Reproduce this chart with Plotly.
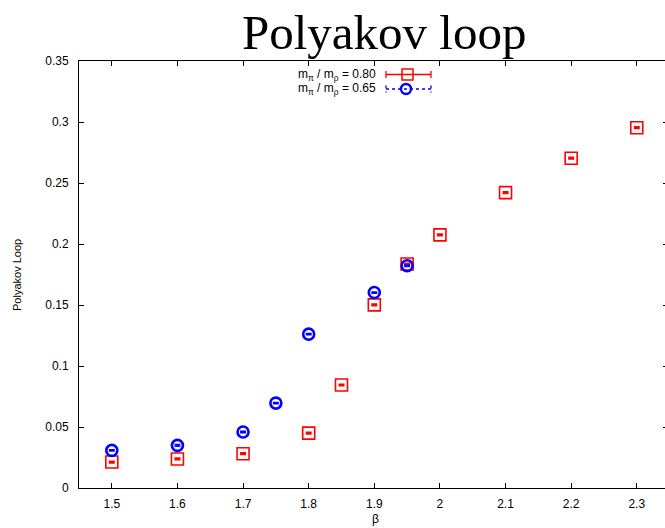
import plotly.graph_objects as go

# Polyakov loop expectation value vs. coupling beta, two quark-mass ratios
beta_080 = [1.5, 1.6, 1.7, 1.8, 1.85, 1.9, 1.95, 2.0, 2.1, 2.2, 2.3]
poly_080 = [0.0213, 0.0238, 0.0281, 0.0450, 0.0844, 0.1501, 0.1836, 0.2075, 0.2421, 0.2703, 0.2953]
err_080 = [0.0006, 0.0006, 0.0006, 0.0006, 0.0005, 0.0006, 0.0006, 0.0006, 0.0006, 0.0006, 0.0006]

beta_065 = [1.5, 1.6, 1.7, 1.75, 1.8, 1.9, 1.95]
poly_065 = [0.0308, 0.0349, 0.0459, 0.0696, 0.1261, 0.1602, 0.1822]
err_065 = [0.0005, 0.0007, 0.0005, 0.0005, 0.0005, 0.0005, 0.0006]

x_ticks = [1.5, 1.6, 1.7, 1.8, 1.9, 2.0, 2.1, 2.2, 2.3]
x_tick_text = ["1.5", "1.6", "1.7", "1.8", "1.9", "2", "2.1", "2.2", "2.3"]
y_ticks = [0, 0.05, 0.1, 0.15, 0.2, 0.25, 0.3, 0.35]
y_tick_text = ["0", "0.05", "0.1", "0.15", "0.2", "0.25", "0.3", "0.35"]

legend_labels = ["m<sub>π</sub> / m<sub>ρ</sub> = 0.80", "m<sub>π</sub> / m<sub>ρ</sub> = 0.65"]

RED = "#ff0000"
BLUE = "#0000ff"
W, H = 665, 528
ML, MR, MT, MB = 79, 0, 61, 40
PW, PH = W - ML - MR, H - MT - MB
TICK_FONT = dict(family="Liberation Sans", size=12, color="black")


def px_x(p):
    return (p - ML) / PW


def px_y(p):
    return (H - MB - p) / PH


fig = go.Figure()

fig.add_trace(go.Scatter(
    x=beta_080, y=poly_080, mode="markers", showlegend=False,
    marker=dict(symbol="square-open", size=12, color=RED, line=dict(width=1.6, color=RED)),
    error_y=dict(type="data", array=err_080, visible=True, color=RED, thickness=1.8, width=3),
))
fig.add_trace(go.Scatter(
    x=beta_065, y=poly_065, mode="markers", showlegend=False,
    marker=dict(symbol="circle-open", size=11, color=BLUE, line=dict(width=2.6, color=BLUE)),
    error_y=dict(type="data", array=err_065, visible=True, color=BLUE, thickness=1.6, width=3),
))

# Right-hand tick marks (frame line itself lies past the canvas edge)
fig.add_trace(go.Scatter(x=[None], y=[None], yaxis="y2", showlegend=False, hoverinfo="skip"))

fig.update_layout(
    width=W, height=H,
    margin=dict(l=ML, r=MR, t=MT, b=MB),
    paper_bgcolor="white", plot_bgcolor="white",
    showlegend=False,
    xaxis=dict(
        range=[1.45, 2.343], tickvals=x_ticks, ticktext=x_tick_text,
        ticks="inside", ticklen=5, tickwidth=1, tickcolor="black",
        showline=True, linecolor="black", linewidth=1, mirror="ticks",
        showgrid=False, zeroline=False, tickfont=TICK_FONT, ticklabelstandoff=5,
    ),
    yaxis=dict(
        range=[0, 0.35], tickvals=y_ticks, ticktext=y_tick_text,
        ticks="inside", ticklen=5, tickwidth=1, tickcolor="black",
        showline=True, linecolor="black", linewidth=1, mirror=False,
        showgrid=False, zeroline=False, tickfont=TICK_FONT, ticklabelstandoff=7,
    ),
    yaxis2=dict(
        overlaying="y", side="right", range=[0, 0.35], tickvals=y_ticks,
        ticks="inside", ticklen=2, tickwidth=1, tickcolor="black",
        showticklabels=False, showline=False, showgrid=False, zeroline=False,
    ),
)

annotations = [
    dict(text="Polyakov loop", x=px_x(383.5), y=px_y(33), xref="paper", yref="paper",
         xanchor="center", yanchor="middle", showarrow=False,
         font=dict(family="Liberation Serif", size=49, color="black")),
    dict(text="Polyakov Loop", x=px_x(17), y=px_y(275), xref="paper", yref="paper",
         xanchor="center", yanchor="middle", textangle=-90, showarrow=False,
         font=dict(family="Liberation Sans", size=11, color="black")),
    dict(text="β", x=px_x(375), y=px_y(519), xref="paper", yref="paper",
         xanchor="center", yanchor="middle", showarrow=False,
         font=dict(family="Liberation Sans", size=12, color="black")),
]

# Key: text to the left of each sample, as in a gnuplot key
shapes = []
key_rows = [(74.5, RED, "solid", "square"), (89.0, BLUE, "dot", "circle")]
for label, (ky, col, dash, sym) in zip(legend_labels, key_rows):
    annotations.append(dict(
        text=label, x=px_x(378), y=px_y(ky), xref="paper", yref="paper",
        xanchor="right", yanchor="middle", showarrow=False,
        font=dict(family="Liberation Sans", size=12, color="black")))
    shapes.append(dict(type="line", xref="paper", yref="paper",
                       x0=px_x(386), x1=px_x(431), y0=px_y(ky), y1=px_y(ky),
                       line=dict(color=col, width=1.3, dash=dash)))
    for cx in (386, 431):
        shapes.append(dict(type="line", xref="paper", yref="paper",
                           x0=px_x(cx), x1=px_x(cx), y0=px_y(ky - 3.5), y1=px_y(ky + 3.5),
                           line=dict(color=col, width=1.3, dash=dash)))
    if sym == "square":
        shapes.append(dict(type="rect", xref="paper", yref="paper",
                           x0=px_x(402), x1=px_x(413), y0=px_y(ky - 5.5), y1=px_y(ky + 5.5),
                           line=dict(color=col, width=1.5)))
    else:
        shapes.append(dict(type="circle", xref="paper", yref="paper",
                           x0=px_x(401), x1=px_x(411), y0=px_y(ky - 5), y1=px_y(ky + 5),
                           line=dict(color=col, width=2.4)))

fig.update_layout(annotations=annotations, shapes=shapes)

fig.write_html("out.html")
